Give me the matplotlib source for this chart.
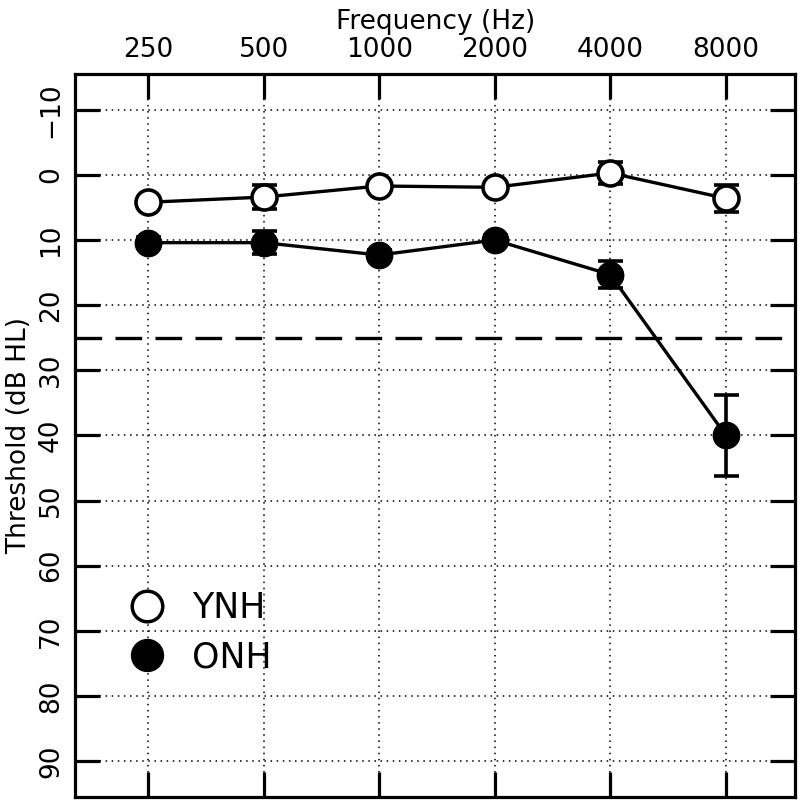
import matplotlib
matplotlib.use("Agg")
import matplotlib.pyplot as plt
from matplotlib.lines import Line2D

plt.rcParams['font.family'] = ['Liberation Sans Narrow', 'DejaVu Sans']

# audiometric frequencies (Hz)
freqs = ['250', '500', '1000', '2000', '4000', '8000']
pos = [1, 2, 3, 4, 5, 6]

# mean thresholds (dB HL) and error
ynh = [4.2, 3.4, 1.7, 1.9, -0.3, 3.6]
ynh_err = [0.8, 1.9, 0.8, 0.8, 1.7, 2.05]
onh = [10.4, 10.4, 12.3, 10.0, 15.3, 40.0]
onh_err = [0.8, 1.8, 0.8, 0.8, 2.05, 6.2]

y_ticks = [-10, 0, 10, 20, 30, 40, 50, 60, 70, 80, 90]
criterion = 25

fig = plt.figure(figsize=(8, 8), dpi=100)
ax = fig.add_axes([0.094, 0.004, 0.9, 0.9035])

ax.errorbar(pos, ynh, yerr=ynh_err, color='black', lw=2.4, marker='o',
            ms=18, mfc='white', mec='black', mew=2.6, capsize=9, capthick=2.6,
            elinewidth=2.6, zorder=4)
ax.errorbar(pos, onh, yerr=onh_err, color='black', lw=2.4, marker='o',
            ms=19, mfc='black', mec='black', capsize=9, capthick=2.6,
            elinewidth=2.6, zorder=4)

ax.axhline(criterion, color='black', lw=2.4, linestyle=(0, (8, 4)), zorder=3)

ax.set_xlim(0.37, 6.6)
ax.set_ylim(95.5, -15.5)

ax.set_xticks(pos)
ax.set_xticklabels(freqs)
ax.set_yticks(y_ticks)
ax.set_yticklabels([str(v) if v >= 0 else '\u221210' for v in y_ticks],
                   rotation=90, va='center')

ax.xaxis.tick_top()
ax.xaxis.set_label_position('top')
ax.tick_params(axis='x', which='both', direction='in', length=18, width=2.3,
               top=True, bottom=True, labeltop=True, labelbottom=False,
               labelsize=19, pad=8)
ax.tick_params(axis='y', which='both', direction='in', length=18, width=2.3,
               left=True, right=True, labelsize=19, pad=8)

ax.set_xlabel('Frequency (Hz)', fontsize=19, labelpad=6)
ax.set_ylabel('Threshold (dB HL)', fontsize=19, labelpad=4)

ax.grid(True, color='black', linestyle=(0, (1, 3)), lw=1.1)
ax.set_axisbelow(True)
for s in ax.spines.values():
    s.set_linewidth(2.3)

handles = [
    Line2D([], [], linestyle='none', marker='o', ms=22, mfc='white',
           mec='black', mew=2.5),
    Line2D([], [], linestyle='none', marker='o', ms=23, mfc='black',
           mec='black'),
]
ax.legend(handles, ['YNH', 'ONH'], loc='upper left',
          bbox_to_anchor=(0.027, 0.328), frameon=False, fontsize=25,
          handlelength=1.2, handletextpad=0.7, labelspacing=0.45)

fig.savefig('out.png', dpi=100)
